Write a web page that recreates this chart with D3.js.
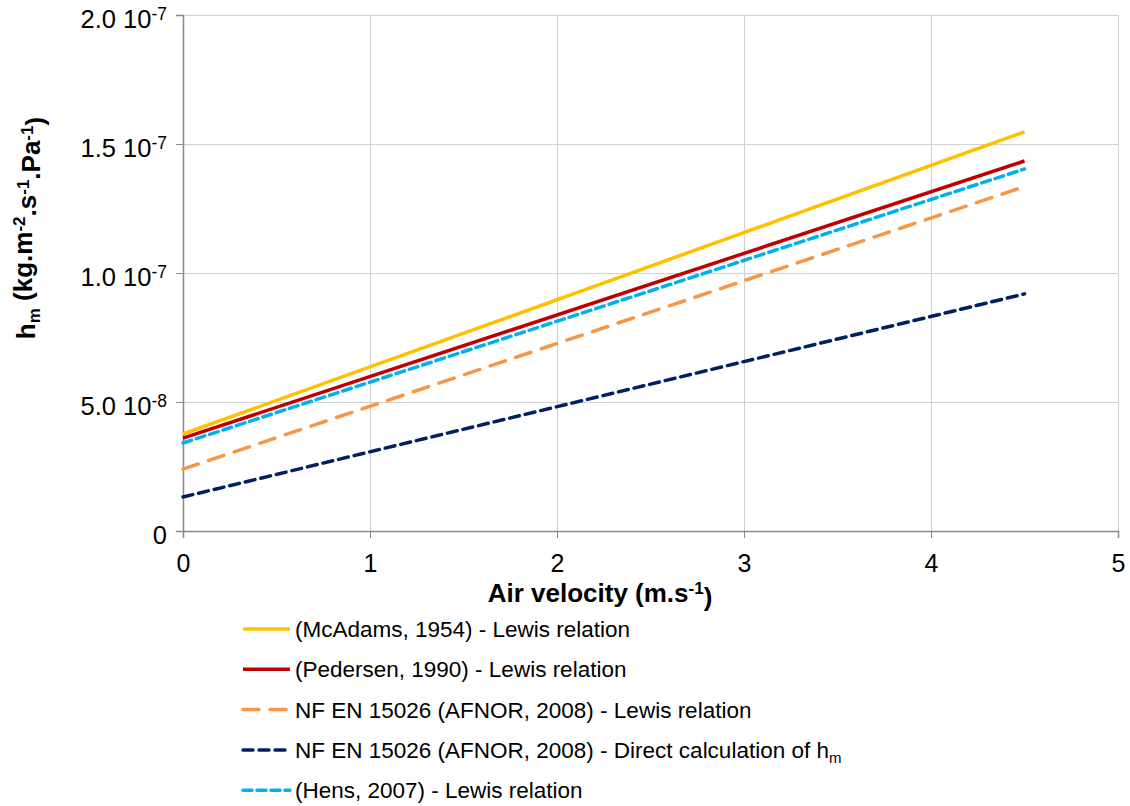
<!DOCTYPE html>
<html><head><meta charset="utf-8">
<script src="https://cdn.jsdelivr.net/npm/d3@7"></script>
<style>
body{margin:0;background:#fff;}
text{font-family:"Liberation Sans",Arial,sans-serif;fill:#000;}
</style></head>
<body><svg id="c" width="1130" height="806"></svg>
<script>
// Data
const velocity = [0, 4.5];
const seriesNames = [
  "(McAdams, 1954) - Lewis relation",
  "(Pedersen, 1990) - Lewis relation",
  "NF EN 15026 (AFNOR, 2008) - Lewis relation",
  "NF EN 15026 (AFNOR, 2008) - Direct calculation of h",
  "(Hens, 2007) - Lewis relation"
];
const mcAdams = [3.76e-8, 1.547e-7];
const pedersen = [3.60e-8, 1.434e-7];
const afnorLewis = [2.40e-8, 1.335e-7];
const afnorDirect = [1.32e-8, 9.19e-8];
const hens = [3.41e-8, 1.403e-7];
const xTicks = [0, 1, 2, 3, 4, 5];
const yTicks = [0, 5e-8, 1e-7, 1.5e-7, 2e-7];
const yTickMantissa = ["0", "5.0 10", "1.0 10", "1.5 10", "2.0 10"];
const yTickExp = ["", "-8", "-7", "-7", "-7"];

const colors = ["#FFC000", "#C00000", "#F79646", "#002060", "#00B0F0"];
const dashes = [null, null, "16,11", "10,6", "9,5"];
const allSeries = [mcAdams, pedersen, afnorLewis, afnorDirect, hens];

const svg = d3.select("#c");
const L = 183, R = 1118, T = 15, B = 531;
const x = d3.scaleLinear().domain([0, 5]).range([L, R]);
const y = d3.scaleLinear().domain([0, 2e-7]).range([B, T]);

// gridlines
svg.append("g").selectAll("line.gx").data(xTicks.slice(1)).join("line")
  .attr("x1", d => x(d)).attr("x2", d => x(d)).attr("y1", T).attr("y2", B)
  .attr("stroke", "#d0d0d0").attr("stroke-width", 1).attr("shape-rendering", "crispEdges");
svg.append("g").selectAll("line.gy").data(yTicks.slice(1)).join("line")
  .attr("x1", L).attr("x2", R).attr("y1", d => y(d)).attr("y2", d => y(d))
  .attr("stroke", "#d0d0d0").attr("stroke-width", 1).attr("shape-rendering", "crispEdges");

// axes
const xAxis = d3.axisBottom(x).tickValues(xTicks).tickSize(7).tickFormat(d3.format("d"));
const gx = svg.append("g").attr("transform", `translate(0,${B})`).call(xAxis);
gx.select(".domain").attr("stroke", "#888").attr("stroke-width", 1.5);
gx.selectAll(".tick line").attr("stroke", "#888");
gx.selectAll(".tick text").attr("font-size", 25).attr("y", 41).attr("dy", 0)
  .attr("font-family", "Liberation Sans, Arial, sans-serif").attr("fill", "#000");

const yAxis = d3.axisLeft(y).tickValues(yTicks).tickSize(7).tickFormat("");
const gy = svg.append("g").attr("transform", `translate(${L},0)`).call(yAxis);
gy.select(".domain").attr("stroke", "#888").attr("stroke-width", 1.5);
gy.selectAll(".tick line").attr("stroke", "#888");
gy.selectAll(".tick").each(function(d, i) {
  const t = d3.select(this).append("text")
    .attr("x", -16).attr("y", 0).attr("dy", "0.47em")
    .attr("text-anchor", "end").attr("font-size", 25.5)
    .attr("font-family", "Liberation Sans, Arial, sans-serif").attr("fill", "#000");
  t.append("tspan").text(yTickMantissa[i]);
  if (yTickExp[i]) t.append("tspan").attr("dy", "-0.45em").attr("font-size", 17.5).text(yTickExp[i]);
});

// lines
const line = d3.line().x((d, i) => x(velocity[i])).y(d => y(d));
allSeries.forEach((s, k) => {
  svg.append("path").datum(s).attr("d", line)
    .attr("fill", "none").attr("stroke", colors[k]).attr("stroke-width", 3.5)
    .attr("stroke-dasharray", dashes[k]).attr("stroke-linecap", dashes[k] ? "round" : "butt");
});

// axis titles
const xt = svg.append("text").attr("x", 600).attr("y", 602).attr("text-anchor", "middle")
  .attr("font-size", 26).attr("font-weight", "bold");
xt.append("tspan").text("Air velocity (m.s");
xt.append("tspan").attr("dy", "-0.45em").attr("font-size", 17).text("-1");
xt.append("tspan").attr("dy", "0.45em").text(")");

const yt = svg.append("text").attr("transform", `translate(35,228) rotate(-90)`)
  .attr("text-anchor", "middle").attr("font-size", 26).attr("font-weight", "bold");
yt.append("tspan").text("h");
yt.append("tspan").attr("dy", "0.3em").attr("font-size", 17).text("m");
yt.append("tspan").attr("dy", "-0.3em").text(" (kg.m");
yt.append("tspan").attr("dy", "-0.45em").attr("font-size", 17).text("-2");
yt.append("tspan").attr("dy", "0.45em").text(".s");
yt.append("tspan").attr("dy", "-0.45em").attr("font-size", 17).text("-1");
yt.append("tspan").attr("dy", "0.45em").text(".Pa");
yt.append("tspan").attr("dy", "-0.45em").attr("font-size", 17).text("-1");
yt.append("tspan").attr("dy", "0.45em").text(")");

// legend
const leg = svg.append("g");
seriesNames.forEach((name, k) => {
  const yy = 629 + k * 40.3;
  leg.append("line").attr("x1", 243).attr("x2", 290).attr("y1", yy).attr("y2", yy)
    .attr("stroke", colors[k]).attr("stroke-width", 3.5)
    .attr("stroke-dasharray", dashes[k]).attr("stroke-linecap", dashes[k] ? "round" : "butt");
  const t = leg.append("text").attr("x", 295).attr("y", yy).attr("dy", "0.36em").attr("font-size", 22.5);
  t.append("tspan").text(name);
  if (k === 3) t.append("tspan").attr("dy", "0.3em").attr("font-size", 15).text("m");
});
</script></body></html>
